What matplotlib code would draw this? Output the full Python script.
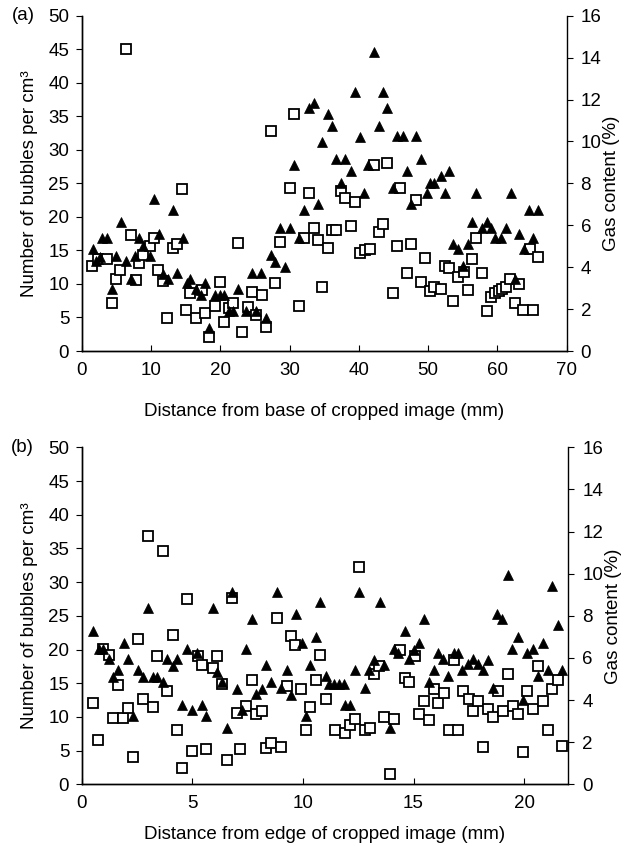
import matplotlib
matplotlib.use("Agg")
import matplotlib.pyplot as plt

plt.rcParams['font.family'] = ['Liberation Sans', 'DejaVu Sans']

# ---------------- Panel (a) ----------------
a_tri_x = [1.6, 2.1, 2.6, 2.9, 3.7, 4.3, 5.0, 5.6, 6.4, 7.1, 7.7, 8.3, 8.9, 9.8, 10.5, 11.1, 11.8, 12.4,
           13.2, 13.8, 14.6, 15.2, 15.7, 16.5, 17.2, 17.8, 18.4, 19.3, 20.0, 20.6, 21.2, 21.8, 22.6,
           23.7, 24.6, 25.2, 25.9, 26.6, 27.3, 27.9, 28.6, 29.4, 30.0, 30.7, 31.3, 32.1, 32.8, 33.5,
           34.1, 34.7, 35.5, 36.1, 36.7, 37.4, 38.0, 38.9, 39.5, 40.1, 40.8, 41.3, 42.2, 42.9, 43.5,
           44.1, 44.9, 45.5, 46.4, 46.9, 47.5, 48.3, 49.0, 49.8, 50.2, 50.9, 51.8, 52.4, 53.0, 53.6,
           54.3, 55.1, 55.7, 56.3, 56.9, 57.8, 58.5, 59.1, 59.7, 60.5, 61.3, 61.9, 62.5, 63.1, 63.8,
           64.5, 65.2, 65.8]
a_tri_bubbles = [15.2, 13.4, 14.0, 16.8, 16.8, 9.2, 14.2, 19.3, 13.4, 10.7, 14.2, 16.8, 15.7, 14.2, 22.7,
                 17.5, 11.5, 10.7, 21.0, 11.7, 16.9, 10.1, 10.7, 9.2, 8.3, 10.1, 3.4, 8.3, 8.3, 8.3, 5.9,
                 5.9, 9.3, 5.9, 11.7, 5.9, 11.7, 4.9, 14.3, 13.3, 18.3, 12.6, 18.3, 27.7, 16.8, 21.0,
                 36.2, 37.0, 21.9, 31.1, 35.3, 33.5, 28.6, 25.1, 28.6, 26.9, 38.7, 31.9, 23.6, 27.7,
                 44.6, 33.5, 38.7, 36.2, 24.3, 32.0, 32.0, 26.9, 21.9, 32.0, 28.6, 23.6, 25.1, 25.1,
                 26.1, 23.6, 26.9, 16.0, 15.2, 12.7, 16.0, 19.3, 23.6, 18.3, 19.3, 18.3, 16.9, 16.9,
                 18.3, 23.6, 10.8, 17.5, 15.2, 21.0, 16.8, 21.0]

a_sq_x = [1.54, 2.4, 3.6, 4.3, 5.0, 5.5, 6.4, 7.1, 7.8, 8.3, 8.9, 9.9, 10.4, 11.0, 11.7, 12.3, 13.2, 13.8,
          14.5, 15.1, 15.7, 16.5, 17.3, 17.8, 18.4, 19.3, 20.0, 20.6, 21.2, 21.9, 22.6, 23.2, 24.0,
          24.6, 25.2, 26.0, 26.6, 27.3, 27.9, 28.6, 30.0, 30.7, 31.3, 32.1, 32.8, 33.5, 34.1, 34.7,
          35.5, 36.1, 36.7, 37.4, 38.0, 38.9, 39.5, 40.2, 40.9, 41.6, 42.2, 42.9, 43.5, 44.1, 44.9,
          45.5, 46.0, 46.9, 47.5, 48.3, 49.0, 49.6, 50.2, 50.8, 51.8, 52.4, 53.0, 53.6, 54.3, 55.2,
          55.7, 56.4, 56.9, 57.8, 58.5, 59.1, 59.7, 60.2, 60.7, 61.3, 61.8, 62.5, 63.1, 63.7, 64.7,
          65.2, 65.9]
a_sq_gas = [4.06, 4.38, 4.38, 2.27, 3.46, 3.87, 14.43, 5.54, 3.39, 4.19, 4.58, 4.99, 5.38, 3.87, 3.33,
            1.57, 4.90, 5.12, 7.71, 1.95, 2.75, 1.57, 2.91, 1.79, 0.67, 2.14, 3.30, 1.38, 2.05, 2.27,
            5.15, 0.90, 2.08, 2.82, 1.73, 2.66, 1.15, 10.50, 3.23, 5.18, 7.78, 11.30, 2.14, 5.38, 7.55,
            5.86, 5.31, 3.04, 4.93, 5.79, 5.76, 7.65, 7.30, 5.95, 7.10, 4.70, 4.80, 4.86, 8.86, 5.70,
            6.08, 8.99, 2.75, 4.99, 7.78, 3.74, 5.12, 7.20, 3.30, 4.42, 2.88, 3.04, 2.98, 4.06, 3.94,
            2.37, 3.55, 3.78, 2.91, 4.38, 5.38, 3.74, 1.89, 2.59, 2.75, 2.88, 2.98, 3.04, 3.42, 2.30,
            3.20, 1.98, 4.86, 1.98, 4.51]

# ---------------- Panel (b) ----------------
b_tri_x = [0.50, 0.80, 0.98, 1.25, 1.43, 1.66, 1.91, 2.11, 2.33, 2.56, 2.76, 3.01, 3.21, 3.42, 3.66, 3.87,
           4.14, 4.32, 4.55, 4.77, 5.0, 5.23, 5.45, 5.62, 5.92, 6.1, 6.33, 6.55, 6.78, 7.0, 7.23, 7.42,
           7.68, 7.88, 8.13, 8.33, 8.54, 8.81, 9.0, 9.27, 9.44, 9.67, 9.94, 10.13, 10.31, 10.58, 10.77,
           11.04, 11.17, 11.40, 11.62, 11.85, 11.9, 12.15, 12.35, 12.54, 12.8, 13.0, 13.2, 13.48,
           13.66, 13.93, 14.11, 14.3, 14.61, 14.8, 15.0, 15.25, 15.46, 15.7, 15.92, 16.1, 16.34,
           16.57, 16.82, 17.0, 17.2, 17.46, 17.7, 17.92, 18.15, 18.37, 18.6, 18.78, 19.0, 19.27,
           19.47, 19.73, 19.93, 20.13, 20.4, 20.63, 20.86, 21.08, 21.26, 21.53, 21.72]
b_tri_bubbles = [22.7, 20.1, 20.1, 18.6, 15.9, 16.9, 20.9, 18.6, 10.1, 16.9, 15.9, 26.2, 15.9, 15.9, 15.2,
                 18.6, 17.6, 18.6, 11.8, 20.1, 11.0, 19.5, 11.8, 10.1, 26.2, 16.7, 15.2, 8.3, 28.5,
                 14.2, 11.0, 20.1, 24.5, 13.4, 14.2, 17.7, 15.2, 28.6, 14.3, 16.9, 13.3, 25.3, 20.9,
                 10.1, 17.7, 21.9, 27.1, 16.0, 14.9, 14.9, 14.9, 14.9, 11.8, 11.8, 16.9, 28.5, 14.3,
                 16.9, 18.5, 27.1, 17.7, 8.3, 20.1, 19.5, 22.7, 18.6, 19.9, 20.9, 24.5, 15.2, 16.9,
                 19.5, 18.6, 16.0, 19.5, 19.5, 16.9, 17.9, 18.6, 17.9, 16.9, 18.5, 14.3, 25.3, 24.5,
                 31.1, 20.1, 21.9, 12.5, 19.5, 20.1, 16.0, 20.9, 16.9, 29.4, 23.7, 16.9]

b_sq_x = [0.50, 0.75, 0.98, 1.25, 1.43, 1.66, 1.88, 2.08, 2.33, 2.56, 2.76, 3.01, 3.21, 3.42, 3.66, 3.87,
          4.14, 4.32, 4.55, 4.77, 5.0, 5.27, 5.45, 5.62, 5.92, 6.1, 6.33, 6.55, 6.78, 7.0, 7.15, 7.42,
          7.68, 7.9, 8.13, 8.33, 8.54, 8.81, 9.0, 9.27, 9.44, 9.64, 9.90, 10.13, 10.31, 10.58, 10.77,
          11.04, 11.45, 11.9, 12.15, 12.35, 12.54, 12.80, 13.02, 13.2, 13.45, 13.66, 13.93, 14.11,
          14.38, 14.61, 14.8, 15.06, 15.25, 15.46, 15.7, 15.92, 16.1, 16.37, 16.61, 16.82, 17.0,
          17.24, 17.51, 17.7, 17.92, 18.15, 18.37, 18.6, 18.82, 19.05, 19.27, 19.5, 19.73, 19.93,
          20.14, 20.41, 20.63, 20.86, 21.08, 21.26, 21.53, 21.72]
b_sq_gas = [3.87, 2.11, 6.43, 6.14, 3.17, 4.74, 3.17, 3.62, 1.31, 6.91, 4.06, 11.78, 3.65, 6.08, 11.07,
            4.42, 7.10, 2.56, 0.77, 8.80, 1.57, 6.08, 5.66, 1.66, 5.50, 6.08, 4.77, 1.15, 8.86, 3.39,
            1.66, 3.74, 4.96, 3.33, 3.46, 1.73, 1.98, 7.90, 1.76, 4.67, 7.04, 6.62, 4.54, 2.59, 3.65,
            4.96, 6.14, 4.06, 2.59, 2.46, 2.82, 3.10, 10.34, 2.56, 2.66, 5.22, 5.63, 3.20, 0.51, 3.10,
            6.37, 5.06, 4.86, 6.08, 3.33, 3.94, 3.07, 4.54, 3.87, 4.35, 2.59, 5.92, 2.59, 4.45, 4.06,
            3.46, 3.94, 1.76, 3.58, 3.20, 4.45, 3.46, 5.22, 3.74, 3.36, 1.54, 4.42, 3.58, 5.60, 3.97,
            2.56, 4.51, 4.96, 1.82]

left_ticks = [0, 5, 10, 15, 20, 25, 30, 35, 40, 45, 50]
right_ticks = [0, 2, 4, 6, 8, 10, 12, 14, 16]
a_xticks = [0, 10, 20, 30, 40, 50, 60, 70]
b_xticks = [0, 5, 10, 15, 20]

FS = 13.5

fig = plt.figure(figsize=(6.32, 8.46), dpi=100)


def panel(rect, tri_x, tri_y, sq_x, sq_y, xlim, xticks, xlabel, tag, xlabelpad):
    ax = fig.add_axes(rect)
    ax2 = ax.twinx()
    ax.set_zorder(ax2.get_zorder() + 1)
    ax.patch.set_visible(False)
    ax2.plot(sq_x, sq_y, linestyle='none', marker='s', markersize=7.0,
             markerfacecolor='white', markeredgecolor='black', markeredgewidth=1.3)
    ax.plot(tri_x, tri_y, linestyle='none', marker='^', markersize=7.5,
            markerfacecolor='black', markeredgecolor='black', markeredgewidth=0.5)
    ax.set_xlim(*xlim)
    ax.set_ylim(0, 50)
    ax2.set_ylim(0, 16)
    ax.set_xticks(xticks)
    ax.set_yticks(left_ticks)
    ax2.set_yticks(right_ticks)
    for a in (ax, ax2):
        a.spines['top'].set_visible(False)
        for s in a.spines.values():
            s.set_linewidth(1.0)
    ax.spines['right'].set_visible(False)
    ax.tick_params(axis='y', direction='out', length=4, labelsize=FS, pad=5)
    ax.tick_params(axis='x', direction='in', length=4, labelsize=FS, pad=8)
    ax2.tick_params(axis='y', direction='out', length=4, labelsize=FS, pad=6)
    ax.set_xlabel(xlabel, fontsize=FS, labelpad=xlabelpad)
    ax.set_ylabel('Number of bubbles per cm³', fontsize=FS, labelpad=7)
    ax2.set_ylabel('Gas content (%)', fontsize=FS, labelpad=1)
    ax.text(-0.145, 1.0, tag, transform=ax.transAxes, fontsize=FS, ha='left', va='center')
    return ax


panel([0.1293, 0.5851, 0.7674, 0.3963], a_tri_x, a_tri_bubbles, a_sq_x, a_sq_gas, (0, 70), a_xticks,
      'Distance from base of cropped image (mm)', '(a)', 17)
panel([0.1293, 0.0729, 0.7700, 0.3983], b_tri_x, b_tri_bubbles, b_sq_x, b_sq_gas, (0, 22), b_xticks,
      'Distance from edge of cropped image (mm)', '(b)', 10)

fig.savefig('out.png', dpi=100)
